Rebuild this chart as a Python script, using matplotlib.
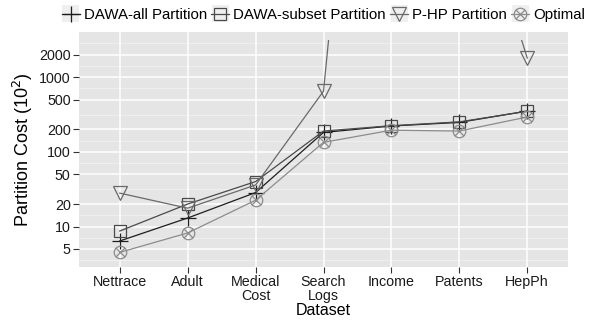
import matplotlib
matplotlib.use('Agg')
import matplotlib.pyplot as plt
import numpy as np
from matplotlib.path import Path
from matplotlib.patches import Rectangle
from matplotlib.lines import Line2D

plt.rcParams['font.family'] = ['Liberation Sans', 'DejaVu Sans']

datasets = ['Nettrace', 'Adult', 'Medical\nCost', 'Search\nLogs', 'Income', 'Patents', 'HepPh']
dawa_all = [6.4, 13, 28.5, 182, 222, 248, 352]
dawa_subset = [8.7, 20, 40, 190, 224, 252, 350]
php = [28, 17.6, 36, 650, 1e12, 1.5e6, 1800]
optimal = [4.5, 8.2, 22.5, 134, 195, 190, 293]

y_breaks = [5, 10, 20, 50, 100, 200, 500, 1000, 2000]

# circle with an x inside (ggplot shape 13)
circ = Path.unit_circle()
k = np.sqrt(0.5)
cross = Path([(-k, -k), (k, k), (-k, k), (k, -k)],
             [Path.MOVETO, Path.LINETO, Path.MOVETO, Path.LINETO])
circle_x = Path.make_compound_path(circ, cross)

series = [
    ('DAWA-all Partition', dawa_all, '#1e1e1e', '+', 11),
    ('DAWA-subset Partition', dawa_subset, '#4a4a4a', 's', 9),
    ('P-HP Partition', php, '#6a6a6a', 'v', 10),
    ('Optimal', optimal, '#8c8c8c', circle_x, 9),
]

fig = plt.figure(figsize=(5.89, 3.22), dpi=100)
ax = fig.add_axes([79/589, 1-267/322, (568-79)/589, (267-32)/322])
ax.set_facecolor('#e5e5e5')
for s in ax.spines.values():
    s.set_visible(False)

x = np.arange(len(datasets))
ax.set_yscale('log')
ax.set_xlim(-0.6, len(datasets) - 0.4)
lo = 10 ** (np.log10(5) - (267 - 249) / 74.6)
hi = 10 ** (np.log10(2000) + (54.7 - 32) / 74.6)
ax.set_ylim(lo, hi)

# grid: minor at log midpoints, major white
lb = np.log10(y_breaks)
minor = list((lb[:-1] + lb[1:]) / 2) + [lb[0] - (lb[1]-lb[0]) / 2, lb[-1] + (lb[-1]-lb[-2]) / 2]
for m in minor:
    ax.axhline(10 ** m, color='#f2f2f2', lw=0.6, zorder=0.5)
for b in y_breaks:
    ax.axhline(b, color='white', lw=1.1, zorder=0.6)
for xi in x:
    ax.axvline(xi, color='white', lw=1.1, zorder=0.6)

clip = Rectangle((0, 0), 1, 1 - 8/235, transform=ax.transAxes, visible=False)
ax.add_patch(clip)

handles = []
for name, vals, col, mk, ms in series:
    ln, = ax.plot(x, vals, color=col, lw=0.9, marker=mk, markersize=ms,
                  markerfacecolor='none', markeredgecolor=col, markeredgewidth=0.9,
                  zorder=3)
    ln.set_clip_path(clip)
    handles.append(Line2D([], [], color=col, lw=0.9, marker=mk, markersize=ms,
                          markerfacecolor='none', markeredgecolor=col,
                          markeredgewidth=0.9, label=name))

ax.set_xticks(x)
ax.set_xticklabels(datasets, fontsize=10.3, linespacing=0.95)
ax.set_yticks(y_breaks)
ax.set_yticklabels([str(b) for b in y_breaks], fontsize=10.3)
ax.yaxis.set_minor_locator(matplotlib.ticker.NullLocator())
ax.tick_params(axis='both', length=4, width=0.8, color='#333333', labelcolor='#1a1a1a', pad=2)

ax.set_xlabel('Dataset', fontsize=11.5, labelpad=0)
ax.set_ylabel('Partition Cost (10$^2$)', fontsize=13, labelpad=3)

leg = fig.legend(handles=handles, loc='center', ncol=4, bbox_to_anchor=((79+568)/2/589, 1 - 15/322),
                 frameon=False, fontsize=10.8, handlelength=1.2, handletextpad=0.25,
                 columnspacing=0.3, borderaxespad=0, borderpad=0.2)

# grey key boxes behind the legend handles
fig.canvas.draw()
r = fig.canvas.get_renderer()
for h in leg.legend_handles:
    bb = h.get_window_extent(r)
    cx, cy = (bb.x0 + bb.x1) / 2, (bb.y0 + bb.y1) / 2
    fig.add_artist(Rectangle((cx - 8.5, cy - 8.5), 17, 17, transform=None,
                             facecolor='#efefef', edgecolor='none', zorder=0))
leg.set_zorder(5)

fig.savefig('out.png', dpi=100)
